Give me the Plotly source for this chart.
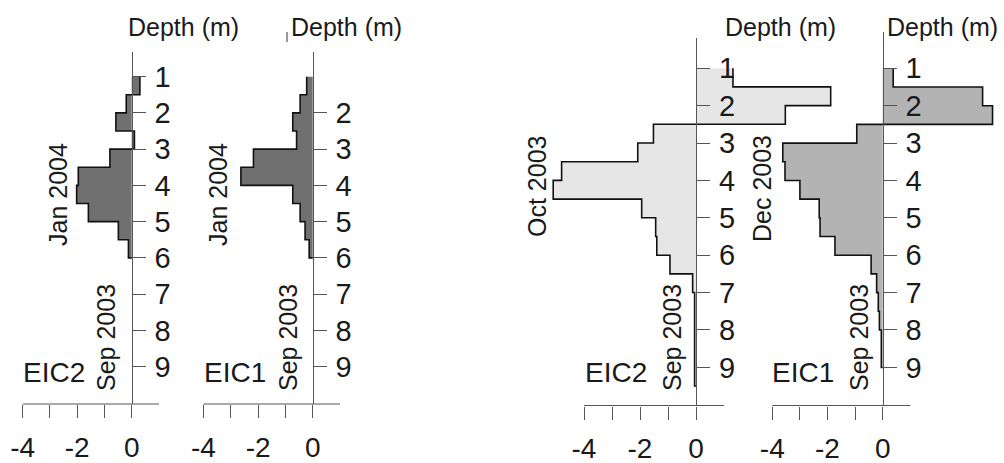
import plotly.graph_objects as go

# ---- data: profile layers are 0.5 m thick, listed by layer top depth (m) ----
LAYER = 0.5

depth_jan = [1.0, 1.5, 2.0, 2.5, 3.0, 3.5, 4.0, 4.5, 5.0, 5.5]
eic2_jan2004 = [0.30, -0.20, -0.58, 0.10, -0.80, -1.96, -2.02, -1.59, -0.49, -0.12]
eic1_jan2004 = [-0.22, -0.46, -0.73, -0.59, -2.17, -2.63, -0.73, -0.46, -0.28, -0.13]

depth_oct = [1.0, 1.5, 2.0, 2.5, 3.0, 3.5, 4.0, 4.5, 5.0, 5.5, 6.0, 6.5, 7.0, 7.5, 8.0, 8.5, 9.0]
eic2_oct2003 = [1.32, 4.81, 3.19, -1.52, -2.08, -4.80, -5.10, -1.94, -1.44, -1.40,
                -0.93, -0.12, -0.05, -0.05, -0.05, -0.05, -0.05]

depth_dec = [1.0, 1.5, 2.0, 2.5, 3.0, 3.5, 4.0, 4.5, 5.0, 5.5, 6.0, 6.5, 7.0, 7.5, 8.0, 8.5]
eic1_dec2003 = [0.38, 3.62, 3.98, -0.94, -3.62, -3.54, -3.00, -2.30, -2.27, -1.73,
                -0.42, -0.22, -0.16, -0.12, -0.05, -0.05]

panel_names = ["EIC2", "EIC1", "EIC2", "EIC1"]
panel_months = ["Jan 2004", "Jan 2004", "Oct 2003", "Dec 2003"]
start_month = "Sep 2003"
fills = ["#707070", "#707070", "#e6e6e6", "#b3b3b3"]

depth_ticks = [1, 2, 3, 4, 5, 6, 7, 8, 9]
x_ticks = [-4, -3, -2, -1, 0]
x_ticklabels = ["-4", "", "-2", "", "0"]

W, H = 1004, 463
FONT = "Liberation Sans, Arial, Helvetica, sans-serif"
INK = "#1a1a1a"
AXC = "#555555"

# panel geometry in pixels: zero column, px per unit, x span, y span, depth range
panels = [
    dict(x0=131.7, sx=27.25, xs=(5, 200), ys=(52, 404), dr=(10.03, 0.32), lab=5),
    dict(x0=312.7, sx=27.3, xs=(190, 380), ys=(52, 404), dr=(10.03, 0.32), lab=5),
    dict(x0=696.0, sx=28.0, xs=(520, 850), ys=(38.3, 405.5), dr=(10.02, 0.20), lab=5),
    dict(x0=882.7, sx=27.6, xs=(765, 1003), ys=(31.7, 405.5), dr=(10.02, 0.02), lab=5),
]
profiles = [
    (depth_jan, eic2_jan2004),
    (depth_jan, eic1_jan2004),
    (depth_oct, eic2_oct2003),
    (depth_dec, eic1_dec2003),
]


def step_outline(tops, vals):
    xs, ys = [], []
    for t, v in zip(tops, vals):
        xs += [v, v]
        ys += [t, t + LAYER]
    xs.append(0)
    ys.append(tops[-1] + LAYER)
    return xs, ys


fig = go.Figure()
layout = {}
shapes = []

for i, (p, (tops, vals)) in enumerate(zip(panels, profiles)):
    n = "" if i == 0 else str(i + 1)
    xa, ya = "x" + n, "y" + n
    xs, ys = step_outline(tops, vals)
    fig.add_trace(go.Scatter(
        x=xs, y=ys, mode="lines", fill="tozerox", fillcolor=fills[i],
        line=dict(color="#111111", width=1.6), hoverinfo="skip",
        showlegend=False, xaxis=xa, yaxis=ya,
    ))
    l, r = p["xs"]
    top, bot = p["ys"]
    layout["xaxis" + n] = dict(
        domain=[l / W, r / W],
        range=[(l - p["x0"]) / p["sx"], (r - p["x0"]) / p["sx"]],
        anchor=ya, showgrid=False, zeroline=False, showline=False, automargin=False,
        ticks="outside", ticklen=13, tickwidth=1.2, tickcolor=AXC,
        tickvals=x_ticks, ticktext=x_ticklabels,
        tickfont=dict(family=FONT, size=28, color=INK), ticklabelstandoff=p["lab"],
    )
    yt = depth_ticks[1:] if i == 1 else depth_ticks
    layout["yaxis" + n] = dict(
        domain=[1 - bot / H, 1 - top / H],
        range=list(p["dr"]), anchor="free", position=p["x0"] / W, side="right",
        showgrid=False, zeroline=False, showline=True, linecolor=AXC, linewidth=1.2,
        automargin=False, autoshift=False,
        ticks="outside", ticklen=13, tickwidth=1.2, tickcolor=AXC,
        tickvals=yt, ticktext=[str(v) for v in yt],
        tickfont=dict(family=FONT, size=29, color=INK), ticklabelstandoff=3,
    )
    # bottom axis line running from -4 to 1
    shapes.append(dict(type="line", xref=xa, yref=ya + " domain", x0=-4, x1=1,
                       y0=0, y1=0, line=dict(color=AXC, width=1.2)))

# short stray stroke left of the second "Depth (m)"
shapes.append(dict(type="line", xref="paper", yref="paper",
                   x0=287 / W, x1=287 / W, y0=1 - 42 / H, y1=1 - 32 / H,
                   line=dict(color=AXC, width=1.2)))

annotations = []


def ann(text, px, py, size, xanchor="center", angle=0):
    annotations.append(dict(
        text=text, x=px / W, y=1 - py / H, xref="paper", yref="paper",
        xanchor=xanchor, yanchor="middle", textangle=angle, showarrow=False,
        font=dict(family=FONT, size=size, color=INK),
    ))


for px in (126, 289, 723, 885):
    ann("Depth (m)", px, 27, 25, xanchor="left")

for name, px in zip(panel_names, (21, 202, 583, 770)):
    ann(name, px, 372, 28, xanchor="left")

for month, (px, py) in zip(panel_months, ((58, 195), (218, 195), (537, 187), (762, 189))):
    ann(month, px, py, 25, angle=-90)

for px in (106, 288, 672, 859):
    ann(start_month, px, 338, 25, angle=-90)

fig.update_layout(
    width=W, height=H, margin=dict(l=0, r=0, t=0, b=0, autoexpand=False),
    paper_bgcolor="white", plot_bgcolor="rgba(0,0,0,0)",
    shapes=shapes, annotations=annotations, **layout,
)

fig.write_html("out.html")
